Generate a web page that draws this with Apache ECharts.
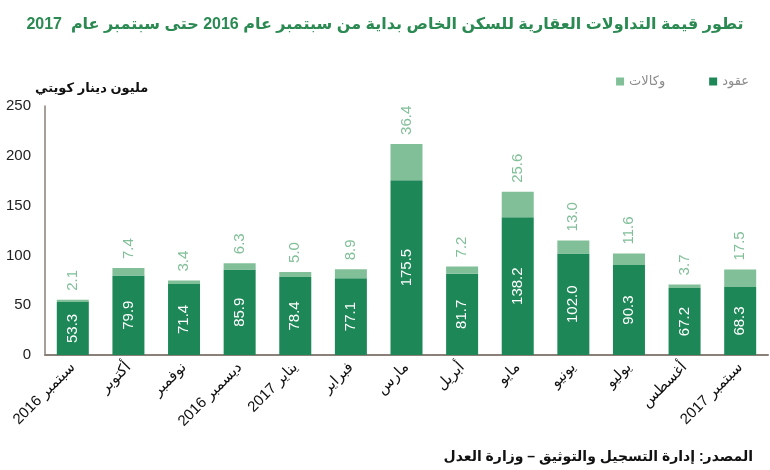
<!DOCTYPE html>
<html>
<head>
<meta charset="utf-8">
<script src="https://cdn.jsdelivr.net/npm/echarts@6/dist/echarts.min.js"></script>
<style>
html,body{margin:0;padding:0;background:#fff;}
#chart{width:770px;height:470px;}
</style>
</head>
<body>
<div id="chart"></div>
<script>
var categories = ['سبتمبر 2016','أكتوبر','نوفمبر','ديسمبر 2016','يناير 2017','فبراير','مارس','أبريل','مايو','يونيو','يوليو','أغسطس','سبتمبر 2017'];
var contracts = [53.3,79.9,71.4,85.9,78.4,77.1,175.5,81.7,138.2,102.0,90.3,67.2,68.3];
var agencies = [2.1,7.4,3.4,6.3,5.0,8.9,36.4,7.2,25.6,13.0,11.6,3.7,17.5];
var yTicks = [0,50,100,150,200,250];

var DARK = '#1e8757';
var LIGHT = '#80bf98';
var FONT = 'Arial, "Liberation Sans", "DejaVu Sans", sans-serif';

var chart = echarts.init(document.getElementById('chart'), null, {renderer:'canvas'});
chart.setOption({
  animation:false,
  textStyle:{fontFamily:FONT},
  title:[{
    text:'تطور قيمة التداولات العقارية للسكن الخاص بداية من سبتمبر عام 2016 حتى سبتمبر عام  2017',
    left:'center', top:12,
    textStyle:{color:'#2a8a52', fontSize:16, fontWeight:'bold', fontFamily:FONT}
  },{
    text:'مليون دينار كويتي',
    left:30, top:77,
    textStyle:{color:'#111', fontSize:13, fontWeight:'bold', fontFamily:FONT}
  },{
    text:'المصدر: إدارة التسجيل والتوثيق – وزارة العدل',
    right:12, top:445,
    textStyle:{color:'#111', fontSize:14, fontWeight:'bold', fontFamily:FONT}
  }],
  legend:{
    data:['وكالات','عقود'],
    right:16, top:70,
    itemWidth:8, itemHeight:8, itemGap:44,
    icon:'rect',
    textStyle:{color:'#8c8c8c', fontSize:13, fontFamily:FONT}
  },
  grid:{left:45, right:2, top:106, bottom:115, containLabel:false},
  xAxis:{
    type:'category',
    data:categories,
    axisLine:{show:true, lineStyle:{color:'#8a8078', width:2}},
    axisTick:{show:false},
    axisLabel:{rotate:45, color:'#111', fontSize:15, margin:10, interval:0, fontFamily:FONT}
  },
  yAxis:{
    type:'value',
    min:yTicks[0], max:yTicks[yTicks.length-1], interval:50,
    axisLine:{show:true, lineStyle:{color:'#8a8078', width:1.5}},
    axisTick:{show:false},
    splitLine:{show:false},
    axisLabel:{color:'#222', fontSize:15, margin:14, fontFamily:FONT}
  },
  series:[{
    name:'عقود',
    type:'bar',
    stack:'total',
    barWidth:32,
    data:contracts,
    itemStyle:{color:DARK},
    label:{
      show:true, position:'inside', rotate:90,
      color:'#fff', fontSize:15, fontFamily:FONT,
      formatter:function(p){return p.value.toFixed(1);}
    }
  },{
    name:'وكالات',
    type:'bar',
    stack:'total',
    barWidth:32,
    data:agencies,
    itemStyle:{color:LIGHT},
    label:{
      show:true, position:'top', rotate:90, distance:9,
      align:'left', verticalAlign:'middle',
      color:LIGHT, fontSize:15, fontFamily:FONT,
      formatter:function(p){return p.value.toFixed(1);}
    }
  }]
});
</script>
</body>
</html>
